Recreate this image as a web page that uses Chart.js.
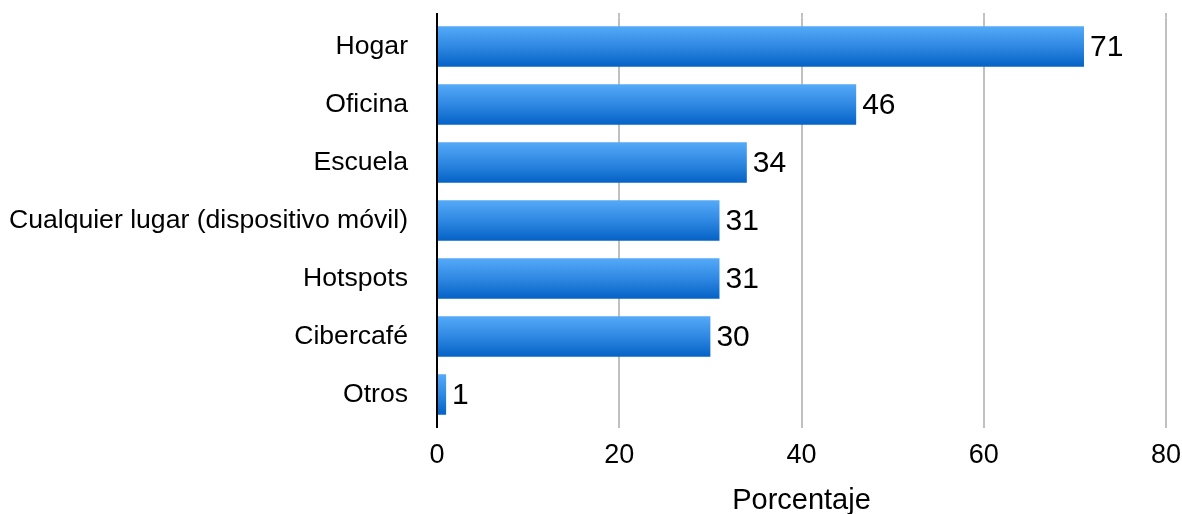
<!DOCTYPE html>
<html>
<head>
<meta charset="utf-8">
<script src="https://cdn.jsdelivr.net/npm/chart.js@4/dist/chart.umd.min.js"></script>
<style>
  html, body { margin: 0; padding: 0; background: #fff; }
  #wrap { width: 1182px; height: 514px; }
</style>
</head>
<body>
<div id="wrap"><canvas id="c" width="1182" height="514"></canvas></div>
<script>
const categories = ['Hogar', 'Oficina', 'Escuela', 'Cualquier lugar (dispositivo móvil)', 'Hotspots', 'Cibercafé', 'Otros'];
const porcentajes = [71, 46, 34, 31, 31, 30, 1];
const xTicks = [0, 20, 40, 60, 80];
const axisTitle = 'Porcentaje';

const FONT = '"Liberation Sans", Arial, sans-serif';
const BAR_FRACTION = 0.7;
const EXTEND = 4.5;

// Vertical blue gradient per bar, light at top and dark at bottom
function barGradient(ctx) {
  const chart = ctx.chart;
  const y = chart.scales.y;
  if (!y || !chart.chartArea) return '#2b86e0';
  const center = y.getPixelForValue(ctx.dataIndex);
  const half = (chart.chartArea.bottom - chart.chartArea.top) / categories.length * BAR_FRACTION / 2;
  const g = chart.ctx.createLinearGradient(0, center - half, 0, center + half);
  g.addColorStop(0, '#55aaf8');
  g.addColorStop(0.5, '#2f88e2');
  g.addColorStop(1, '#0462c6');
  return g;
}

// Value labels at the end of each bar
const valueLabels = {
  id: 'valueLabels',
  afterDatasetsDraw(chart) {
    const ctx = chart.ctx;
    const meta = chart.getDatasetMeta(0);
    ctx.save();
    ctx.font = '30px ' + FONT;
    ctx.fillStyle = '#000';
    ctx.textAlign = 'left';
    ctx.textBaseline = 'middle';
    meta.data.forEach((bar, i) => {
      ctx.fillText(String(chart.data.datasets[0].data[i]), bar.x + 6, bar.y + 1);
    });
    ctx.restore();
  }
};

// Grid lines and the value axis run a little past the plot area at both ends
const axisExtend = {
  id: 'axisExtend',
  beforeDatasetsDraw(chart) {
    const ctx = chart.ctx;
    const area = chart.chartArea;
    const x = chart.scales.x;
    ctx.save();
    ctx.lineWidth = 2;
    x.ticks.forEach(t => {
      if (t.value === 0) return;
      const px = Math.round(x.getPixelForValue(t.value));
      ctx.strokeStyle = '#c0c0c0';
      ctx.beginPath();
      ctx.moveTo(px, area.top - EXTEND); ctx.lineTo(px, area.top);
      ctx.moveTo(px, area.bottom); ctx.lineTo(px, area.bottom + EXTEND);
      ctx.stroke();
    });
    const lx = Math.round(area.left);
    ctx.strokeStyle = '#000';
    ctx.beginPath();
    ctx.moveTo(lx, area.top - EXTEND); ctx.lineTo(lx, area.bottom + EXTEND);
    ctx.stroke();
    ctx.restore();
  }
};

new Chart(document.getElementById('c'), {
  type: 'bar',
  data: {
    labels: categories,
    datasets: [{
      data: porcentajes,
      backgroundColor: barGradient,
      borderWidth: 0,
      barPercentage: BAR_FRACTION,
      categoryPercentage: 1
    }]
  },
  options: {
    indexAxis: 'y',
    responsive: false,
    animation: false,
    devicePixelRatio: 1,
    layout: { padding: { top: 17.5, right: 16, bottom: 0, left: 0 } },
    plugins: {
      legend: { display: false },
      tooltip: { enabled: false }
    },
    scales: {
      x: {
        type: 'linear',
        min: 0,
        max: 80,
        afterBuildTicks(scale) { scale.ticks = xTicks.map(v => ({ value: v })); },
        afterFit(scale) {
          scale.height = 90.5;
          scale.paddingLeft = 0;
          scale.paddingRight = 0;
        },
        grid: { color: '#c0c0c0', lineWidth: 2, drawTicks: false },
        border: { display: false },
        ticks: { color: '#000', font: { family: FONT, size: 27 }, padding: 16 },
        title: {
          display: true,
          text: axisTitle,
          color: '#000',
          font: { family: FONT, size: 29, lineHeight: 1 },
          padding: { top: 0, bottom: -1 }
        }
      },
      y: {
        afterFit(scale) {
          scale.width = 437;
          scale.paddingTop = 0;
          scale.paddingBottom = 0;
        },
        grid: { display: false, drawTicks: false },
        border: { display: true, color: '#000', width: 2 },
        ticks: { color: '#000', font: { family: FONT, size: 26.6 }, padding: 29 }
      }
    }
  },
  plugins: [axisExtend, valueLabels]
});
</script>
</body>
</html>
